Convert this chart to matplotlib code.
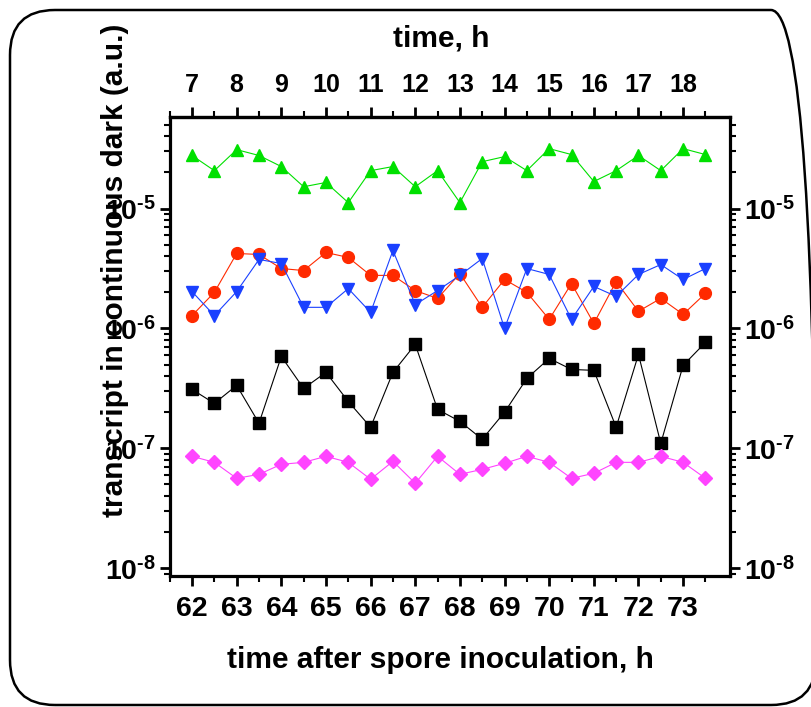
import math
import matplotlib
matplotlib.use("Agg")
import matplotlib.pyplot as plt
from matplotlib.patches import FancyBboxPatch
from matplotlib.ticker import FixedLocator, LogLocator, FuncFormatter, NullFormatter

plt.rcParams['font.family'] = ['Liberation Sans', 'DejaVu Sans']
plt.rcParams['font.weight'] = 'bold'
plt.rcParams['mathtext.fontset'] = 'custom'
plt.rcParams['mathtext.rm'] = 'Liberation Sans:bold'
plt.rcParams['mathtext.it'] = 'Liberation Sans:bold'
plt.rcParams['mathtext.bf'] = 'Liberation Sans:bold'

# time after spore inoculation, h (every half hour)
hours = [62 + 0.5 * i for i in range(24)]

green = [2.77, 2.07, 3.10, 2.77, 2.24, 1.52, 1.65, 1.12, 2.07, 2.24, 1.52, 2.07,
         1.12, 2.46, 2.71, 2.07, 3.16, 2.82, 1.68, 2.07, 2.77, 2.07, 3.16, 2.82]
red = [1.28, 2.00, 4.22, 4.14, 3.16, 3.04, 4.30, 3.91, 2.77, 2.77, 2.07, 1.78,
       2.87, 1.50, 2.56, 2.00, 1.19, 2.37, 1.10, 2.46, 1.39, 1.78, 1.31, 1.96]
blue = [2.03, 1.28, 2.03, 3.76, 3.48, 1.50, 1.50, 2.15, 1.36, 4.47, 1.58, 2.07,
        2.77, 3.83, 1.00, 3.16, 2.82, 1.19, 2.24, 1.85, 2.82, 3.41, 2.56, 3.16]
black = [3.10, 2.37, 3.35, 1.62, 5.84, 3.16, 4.30, 2.46, 1.50, 4.30, 7.36, 2.11,
         1.68, 1.19, 2.00, 3.83, 5.62, 4.55, 4.47, 1.50, 6.07, 1.10, 4.92, 7.64]
magenta = [8.58, 7.64, 5.62, 6.07, 7.36, 7.64, 8.58, 7.64, 5.52, 7.79, 5.11, 8.58,
           6.07, 6.68, 7.50, 8.58, 7.64, 5.62, 6.19, 7.64, 7.64, 8.58, 7.64, 5.62]

series = [
    (green, 1e-5, '^', '#00e000', 9),
    (red, 1e-6, 'o', '#ff2a00', 8.5),
    (blue, 1e-6, 'v', '#1a40ff', 9),
    (black, 1e-7, 's', 'black', 8),
    (magenta, 1e-8, 'D', '#ff44ff', 7.5),
]


def decade(v, pos):
    # hyphen instead of mathtext minus, like the original
    e = int(round(math.log10(v)))
    s = ('\u2010%d' % -e) if e < 0 else '%d' % e
    return r'$\mathregular{10^{%s}}$' % s


fig = plt.figure(figsize=(8.12, 7.07), dpi=100)
ax = fig.add_axes([0.209, 0.185, 0.690, 0.650])

for vals, scale, m, c, ms in series:
    ax.plot(hours, [v * scale for v in vals], '-', color=c, lw=0.8,
            marker=m, ms=ms, mfc=c, mec=c)

ax.set_yscale('log')
ax.set_xlim(61.5, 74.05)
ax.set_ylim(8.58e-9, 5.84e-5)

ax.xaxis.set_major_locator(FixedLocator(range(62, 74)))
ax.xaxis.set_minor_locator(FixedLocator([61.5 + i for i in range(13)]))
ax.yaxis.set_major_locator(LogLocator(base=10, numticks=10))
ax.yaxis.set_minor_locator(LogLocator(base=10, subs=range(2, 10), numticks=20))
ax.yaxis.set_major_formatter(FuncFormatter(decade))
ax.yaxis.set_minor_formatter(NullFormatter())

for s in ax.spines.values():
    s.set_linewidth(2.3)
ax.tick_params(which='major', direction='out', length=7, width=2, labelsize=20.5)
ax.tick_params(which='minor', direction='out', length=4, width=1.5)
ax.tick_params(axis='y', which='both', left=True, right=True, labelright=True, pad=3)
ax.tick_params(axis='x', pad=7)

sec = ax.secondary_xaxis('top', functions=(lambda x: x - 55, lambda x: x + 55))
sec.xaxis.set_major_locator(FixedLocator(range(7, 19)))
sec.xaxis.set_minor_locator(FixedLocator([6.5 + i for i in range(13)]))
sec.tick_params(which='major', direction='out', length=7, width=2, labelsize=18, pad=7)
sec.tick_params(which='minor', direction='out', length=4, width=1.5)
sec.spines['top'].set_linewidth(2.3)

fig.text(0.543, 0.946, 'time, h', ha='center', va='center', fontsize=21.5, fontweight='bold')
fig.text(0.543, 0.066, 'time after spore inoculation, h', ha='center', va='center',
         fontsize=21.5, fontweight='bold')
fig.text(0.142, 0.618, 'transcript in continuous dark (a.u.)', ha='center', va='center',
         rotation=90, fontsize=21.5, fontweight='bold')

# rounded frame around the whole picture, its right side runs off the canvas
border = FancyBboxPatch((0.10, 0.02), 8.06, 6.95, boxstyle='round,pad=0,rounding_size=0.45',
                        transform=fig.dpi_scale_trans, fill=False, lw=1.8, ec='black',
                        clip_on=False)
fig.add_artist(border)

fig.savefig('out.png', dpi=100)
